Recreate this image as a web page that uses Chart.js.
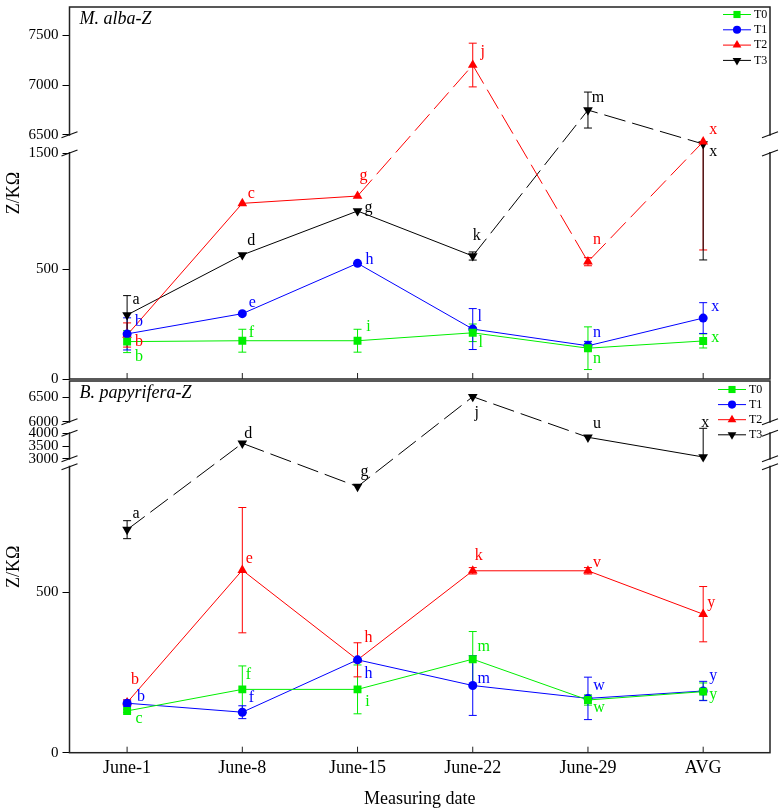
<!DOCTYPE html>
<html>
<head>
<meta charset="utf-8">
<script src="https://cdn.jsdelivr.net/npm/chart.js@4.4.1/dist/chart.umd.min.js"></script>
<style>
    body { margin: 0; background: #fff; }
    canvas { position: absolute; left: 0; }
    #arriba { top: 0; }
    #abajo { top: 380px; }
</style>
</head>
<body>
<canvas id="arriba" width="783" height="395"></canvas>
<canvas id="abajo" width="783" height="431"></canvas>
<script>
const fechas = ['June-1', 'June-8', 'June-15', 'June-22', 'June-29', 'AVG'];
const series = ['T0', 'T1', 'T2', 'T3'];

// M. alba-Z (valores en KΩ)
const albaT0 = [170, 174, 174, 210, 140, 173];
const albaT1 = [205, 297, 549, 227, 151, 277];
const albaT2 = [200, 1066, 1129, 7201, 563, 4590];
const albaT3 = [291, 621, 1000, 612, 6748, 3960];
const albaErrT0 = [50, 52, 52, 40, 97, 32];
const albaErrT1 = [73, 0, 0, 93, 20, 70];
const albaErrT2 = [55, 0, 0, 220, 35, [3926, 0]];
const albaErrT3 = [88, 0, 0, 35, 181, [3382, 0]];
const albaLetrasT0 = ['b', 'f', 'i', 'l', 'n', 'x'];
const albaLetrasT1 = ['b', 'e', 'h', 'l', 'n', 'x'];
const albaLetrasT2 = ['b', 'c', 'g', 'j', 'n', 'x'];
const albaLetrasT3 = ['a', 'd', 'g', 'k', 'm', 'x'];
const albaTicks = [0, 500, 1500, 6500, 7000, 7500];

// B. papyrifera-Z
const papT0 = [130, 197, 197, 291, 164, 190];
const papT1 = [154, 126, 289, 209, 169, 192];
const papT2 = [156, 568, 289, 566, 566, 431];
const papT3 = [694, 3606, 828, 6512, 3843, 3067];
const papErrT0 = [5, 73, 76, 86, 16, 27];
const papErrT1 = [10, 20, 0, 93, 66, 30];
const papErrT2 = [8, 195, 53, 10, 10, 86];
const papErrT3 = [28, 0, 0, 0, 0, [0, 1795]];
const papLetrasT0 = ['c', 'f', 'i', 'm', 'w', 'y'];
const papLetrasT1 = ['b', 'f', 'h', 'm', 'w', 'y'];
const papLetrasT2 = ['b', 'e', 'h', 'k', 'v', 'y'];
const papLetrasT3 = ['a', 'd', 'g', 'j', 'u', 'x'];
const papTicks = [0, 500, 3000, 3500, 4000, 6000, 6500];

// ejes cortados: tramos valor -> altura
const albaEje = { val: [0, 500, 1500, 6500, 7785], px: [0, 110, 226, 244.3, 372], huecos: [[1500, 6500]] };
const papEje = { val: [0, 500, 890, 3000, 4000, 6000, 6834], px: [0, 160.7, 286, 294, 319.4, 331, 371.7], huecos: [[890, 3000], [4000, 6000]] };

const colores = ['#00ee00', '#0000ff', '#ff0000', '#000000'];
const estilos = ['rect', 'circle', 'triangle', 'triangle'];
const radios = [5.6, 4.5, 5.6, 5.6];
const giros = [0, 0, 0, 180];
const fuente = "'Liberation Serif', 'Times New Roman', serif";

// desplazamiento de las letras [dx, dy]
const albaOffs = [
    [[12, 15], [9, -8], [11, -14], [8, 10], [9, 11], [12, -3]],
    [[12, -12], [10, -11], [12, -4], [7, -12], [9, -13], [12, -11]],
    [[12, 7], [9, -10], [6, -20], [10, -13], [9, -22], [10, -12]],
    [[9, -15], [9, -14], [11, -3], [4, -20], [10, -12], [10, 8]]
];
const papOffs = [
    [[12, 8], [6, -15], [10, 12], [11, -12], [11, 8], [10, 3]],
    [[14, -6], [9, -14], [11, 14], [11, -7], [11, -13], [10, -15]],
    [[8, -23], [7, -11], [11, -22], [6, -15], [9, -8], [8, -11]],
    [[9, -16], [6, -10], [7, -15], [4, 16], [9, -13], [2, -34]]
];

function fwd(v, eje) {
    const a = eje.val, b = eje.px;
    let i = 0;
    while (i < a.length - 2 && v > a[i + 1]) i++;
    return b[i] + (v - a[i]) * (b[i + 1] - b[i]) / (a[i + 1] - a[i]);
}

function cruza(y0, y1, eje) {
    const lo = Math.min(y0, y1), hi = Math.max(y0, y1);
    return eje.huecos.some(h => hi > fwd(h[0], eje) && lo < fwd(h[1], eje));
}

function armarSeries(valores, errores, letras, offs, eje) {
    return valores.map((vals, k) => ({
        label: series[k],
        data: vals.map((v, i) => ({ x: i, y: fwd(v, eje) })),
        crudo: vals,
        err: errores[k],
        letras: letras[k],
        offs: offs[k],
        borderColor: colores[k],
        backgroundColor: colores[k],
        borderWidth: 1,
        pointStyle: estilos[k],
        pointRadius: radios[k],
        pointRotation: giros[k],
        pointBorderWidth: 0,
        tension: 0,
        segment: {
            borderDash: c => cruza(c.p0.parsed.y, c.p1.parsed.y, eje) ? [22, 7] : undefined
        }
    }));
}

// barras de error, marco, cortes, leyenda y letras
const dibujos = {
    id: 'dibujos',
    beforeDatasetsDraw(chart) {
        const ctx = chart.ctx, ys = chart.scales.y, eje = chart.options.eje;
        ctx.save();
        ctx.lineWidth = 1;
        chart.data.datasets.forEach((ds, k) => {
            const meta = chart.getDatasetMeta(k);
            ds.crudo.forEach((v, i) => {
                const e = ds.err[i];
                const [baja, sube] = Array.isArray(e) ? e : [e, e];
                if (!baja && !sube) return;
                const x = meta.data[i].x;
                const yHi = ys.getPixelForValue(fwd(v + sube, eje));
                const yLo = ys.getPixelForValue(fwd(v - baja, eje));
                ctx.strokeStyle = ds.borderColor;
                ctx.beginPath();
                ctx.moveTo(x, yLo); ctx.lineTo(x, yHi);
                if (sube) { ctx.moveTo(x - 4, yHi); ctx.lineTo(x + 4, yHi); }
                if (baja) { ctx.moveTo(x - 4, yLo); ctx.lineTo(x + 4, yLo); }
                ctx.stroke();
            });
        });
        ctx.restore();
    },
    afterDraw(chart) {
        const ctx = chart.ctx, a = chart.chartArea, ys = chart.scales.y, xs = chart.scales.x;
        const eje = chart.options.eje;
        ctx.save();
        // marco
        ctx.strokeStyle = '#222';
        ctx.lineWidth = 1.5;
        ctx.strokeRect(a.left, a.top, a.right - a.left, a.bottom - a.top);
        // marcas del eje x hacia dentro
        ctx.lineWidth = 1;
        fechas.forEach((f, i) => {
            const x = xs.getPixelForValue(i);
            ctx.beginPath();
            ctx.moveTo(x, a.bottom); ctx.lineTo(x, a.bottom - 6);
            ctx.stroke();
        });
        // cortes del eje
        eje.huecos.forEach(h => {
            const y0 = ys.getPixelForValue(fwd(h[0], eje));
            const y1 = ys.getPixelForValue(fwd(h[1], eje));
            [a.left, a.right].forEach(x => {
                ctx.fillStyle = '#fff';
                ctx.fillRect(x - 2, y1 + 1, 4, y0 - y1 - 2);
                ctx.strokeStyle = '#111';
                ctx.lineWidth = 1.2;
                ctx.beginPath();
                ctx.moveTo(x - 8, y0 + 3); ctx.lineTo(x + 8, y0 - 3);
                ctx.moveTo(x - 8, y1 + 3); ctx.lineTo(x + 8, y1 - 3);
                ctx.stroke();
            });
        });
        // titulo del panel
        ctx.fillStyle = '#000';
        ctx.font = 'italic 18px ' + fuente;
        ctx.textAlign = 'left';
        ctx.textBaseline = 'middle';
        ctx.fillText(chart.options.panel, a.left + 10, a.top + 12);
        // leyenda
        const ley = chart.options.leyenda;
        ctx.font = '12px ' + fuente;
        series.forEach((s, k) => {
            const y = a.top + ley.y0 + k * ley.paso;
            ctx.strokeStyle = colores[k];
            ctx.lineWidth = 1;
            ctx.beginPath();
            ctx.moveTo(a.right - ley.x0, y); ctx.lineTo(a.right - ley.x0 + 28, y);
            ctx.stroke();
            ctx.fillStyle = colores[k];
            Chart.helpers.drawPoint(ctx, { pointStyle: estilos[k], rotation: giros[k], radius: radios[k] * 0.9, borderWidth: 0 }, a.right - ley.x0 + 14, y);
            ctx.fillStyle = '#000';
            ctx.fillText(s, a.right - ley.x0 + 31, y);
        });
        // letras
        ctx.font = '16px ' + fuente;
        ctx.textAlign = 'center';
        chart.data.datasets.forEach((ds, k) => {
            const meta = chart.getDatasetMeta(k);
            ctx.fillStyle = ds.borderColor;
            ds.letras.forEach((l, i) => {
                const p = meta.data[i];
                ctx.fillText(l, p.x + ds.offs[i][0], p.y + ds.offs[i][1]);
            });
        });
        ctx.restore();
    }
};

function crearPanel(id, datasets, eje, ticks, panel, leyenda, conEtiquetas) {
    return new Chart(document.getElementById(id).getContext('2d'), {
        type: 'line',
        data: { datasets: datasets },
        options: {
            responsive: false,
            animation: false,
            devicePixelRatio: 1,
            eje: eje,
            panel: panel,
            leyenda: leyenda,
            layout: {
                autoPadding: false,
                padding: conEtiquetas ? { top: 1, right: 13, bottom: 0, left: 0 } : { top: 7, right: 13, bottom: 16, left: 0 }
            },
            plugins: { legend: { display: false }, tooltip: { enabled: false } },
            events: [],
            scales: {
                x: {
                    type: 'linear',
                    min: -0.5,
                    max: 5.58,
                    grid: { display: false, drawTicks: false },
                    border: { display: false },
                    afterBuildTicks: s => { s.ticks = fechas.map((f, i) => ({ value: i })); },
                    afterFit: s => {
                        s.height = conEtiquetas ? 58.3 : 0;
                        s.paddingLeft = 0; s.paddingRight = 0;
                    },
                    ticks: {
                        display: conEtiquetas,
                        autoSkip: false,
                        maxRotation: 0,
                        padding: 5,
                        color: '#000',
                        font: { family: fuente, size: 18 },
                        callback: (v, i) => fechas[i]
                    },
                    title: {
                        display: conEtiquetas,
                        text: 'Measuring date',
                        color: '#000',
                        font: { family: fuente, size: 18 },
                        padding: { top: 0, bottom: 1 }
                    }
                },
                y: {
                    type: 'linear',
                    min: 0,
                    max: eje.px[eje.px.length - 1],
                    grid: { drawOnChartArea: false, drawTicks: true, tickLength: 7, color: '#000' },
                    border: { display: false },
                    afterBuildTicks: s => { s.ticks = ticks.map(v => ({ value: fwd(v, eje) })); },
                    afterFit: s => {
                        s.width = 69.5;
                        s.paddingTop = 0; s.paddingBottom = 0;
                    },
                    ticks: {
                        autoSkip: false,
                        padding: 4,
                        color: '#000',
                        font: { family: fuente, size: 15 },
                        callback: (v, i) => ticks[i]
                    },
                    title: {
                        display: true,
                        text: 'Z/KΩ',
                        color: '#000',
                        font: { family: fuente, size: 18 },
                        padding: { top: 3, bottom: 0 }
                    }
                }
            }
        },
        plugins: [dibujos]
    });
}

crearPanel('arriba',
    armarSeries([albaT0, albaT1, albaT2, albaT3], [albaErrT0, albaErrT1, albaErrT2, albaErrT3],
        [albaLetrasT0, albaLetrasT1, albaLetrasT2, albaLetrasT3], albaOffs, albaEje),
    albaEje, albaTicks, 'M. alba-Z', { x0: 47, y0: 7.5, paso: 15.3 }, false);

crearPanel('abajo',
    armarSeries([papT0, papT1, papT2, papT3], [papErrT0, papErrT1, papErrT2, papErrT3],
        [papLetrasT0, papLetrasT1, papLetrasT2, papLetrasT3], papOffs, papEje),
    papEje, papTicks, 'B. papyrifera-Z', { x0: 52, y0: 8.5, paso: 15.1 }, true);
</script>
</body>
</html>
